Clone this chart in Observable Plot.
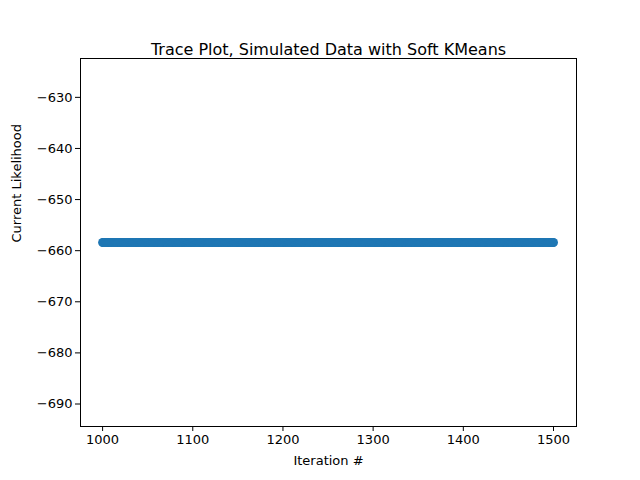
<!DOCTYPE html>
<html><head>
<meta charset="utf-8">
<script src="https://cdn.jsdelivr.net/npm/d3@7"></script>
<script src="https://cdn.jsdelivr.net/npm/@observablehq/plot@0.6"></script>
<style>body{margin:0;background:#fff;font-family:"DejaVu Sans",sans-serif}</style>
</head><body><div id="c"></div>
<script>
const title = "Trace Plot, Simulated Data with Soft KMeans";
const xLabel = "Iteration #";
const yLabel = "Current Likelihood";
const iterations = d3.range(1000, 1501);
const likelihoodValue = -658.4; // trace is flat at this value for every iteration
const likelihood = iterations.map(() => likelihoodValue);
const xTicks = [1000, 1100, 1200, 1300, 1400, 1500];
const yTicks = [-630, -640, -650, -660, -670, -680, -690];
const data = iterations.map((it, i) => ({it, v: likelihood[i]}));

const chart = Plot.plot({
  width: 640, height: 480,
  marginLeft: 80, marginRight: 64, marginTop: 58, marginBottom: 54,
  style: {fontFamily: "DejaVu Sans", fontSize: "13px", color: "#000"},
  x: {domain: [975.5, 1525.5], label: null},
  y: {domain: [-694.4, -622.4], label: null},
  marks: [
    Plot.frame({stroke: "#000"}),
    Plot.axisX({ticks: xTicks, tickSize: 5, tickPadding: 3, tickFormat: d => String(d)}),
    Plot.axisY({ticks: yTicks, tickSize: 5, tickPadding: 3, tickFormat: d => "\u2212" + Math.abs(d)}),
    Plot.dot(data, {x: "it", y: "v", r: 4.5, fill: "#1f77b4", stroke: "none"}),
    Plot.text([title], {frameAnchor: "top", dy: -15, fontSize: 16, fill: "#000"}),
    Plot.text([xLabel], {frameAnchor: "bottom", dy: 38, fontSize: 13, fill: "#000"}),
    Plot.text([yLabel], {frameAnchor: "left", dx: -64, rotate: -90, fontSize: 13, fill: "#000"})
  ]
});
document.getElementById("c").appendChild(chart);
</script></body></html>
